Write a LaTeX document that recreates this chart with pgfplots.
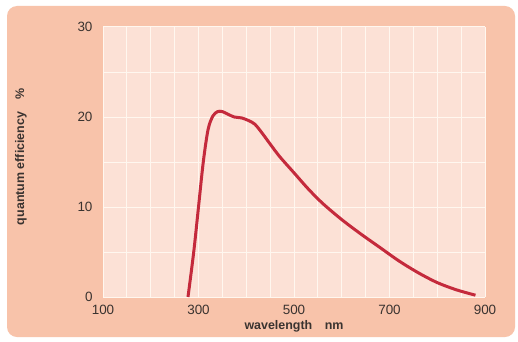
\documentclass[border=0pt]{standalone}
\usepackage{fontspec}
\setmainfont{Liberation Sans}
\usepackage{pgfplots}
\pgfplotsset{compat=1.18}
\definecolor{outerbg}{HTML}{F8C3AA}
\definecolor{plotbg}{HTML}{FCE1D6}
\definecolor{gridc}{HTML}{FFF7EF}
\definecolor{curve}{HTML}{C42A3C}
\definecolor{txt}{HTML}{3A3330}
\begin{document}
\begin{tikzpicture}[x=1bp,y=1bp]
\useasboundingbox (0,0) rectangle (518,341);
\fill[white] (0,0) rectangle (518,341);
\fill[outerbg, rounded corners=10bp] (7,4) rectangle (515,335);
\begin{axis}[
  at={(103bp,44bp)}, anchor=south west,
  scale only axis, width=382bp, height=270bp,
  xmin=100, xmax=900, ymin=0, ymax=30,
  axis background/.style={fill=plotbg},
  axis line style={draw=none},
  tick style={draw=none},
  xtick={100,300,500,700,900},
  ytick={0,10,20,30},
  minor xtick={100,150,...,900},
  minor ytick={0,5,...,30},
  grid=both,
  major grid style={gridc, line width=1bp},
  minor grid style={gridc, line width=1bp},
  /pgf/number format/assume math mode=true,
  /pgf/number format/1000 sep={},
  ticklabel style={font=\fontsize{13.5}{14}\selectfont, text=txt},
  xticklabel style={anchor=center, yshift=-13bp},
  yticklabel style={anchor=east, xshift=-7bp},
  xlabel={\textbf{wavelength\quad nm}},
  ylabel={\textbf{quantum efficiency\quad \%}},
  label style={font=\fontsize{12.5}{13}\selectfont, text=txt},
  xlabel style={at={(axis description cs:0.5,-0.107)}, anchor=center},
  ylabel style={at={(axis description cs:-0.215,0.52)}, anchor=center},
  clip=true,
]
\addplot[curve, line width=3bp, smooth, tension=0.5] coordinates {
(278,0) (290,5) (300,10) (310,15) (320,18.6) (330,20.1) (340,20.6) (350,20.6)
(362,20.3) (375,20.0) (390,19.9) (405,19.6) (418,19.2) (432,18.3) (450,17.0)
(470,15.6) (500,13.8) (530,12.0) (560,10.4) (600,8.6) (640,7.0) (680,5.5)
(720,4.0) (760,2.7) (800,1.6) (840,0.8) (880,0.2)
};
\end{axis}
\end{tikzpicture}
\end{document}
